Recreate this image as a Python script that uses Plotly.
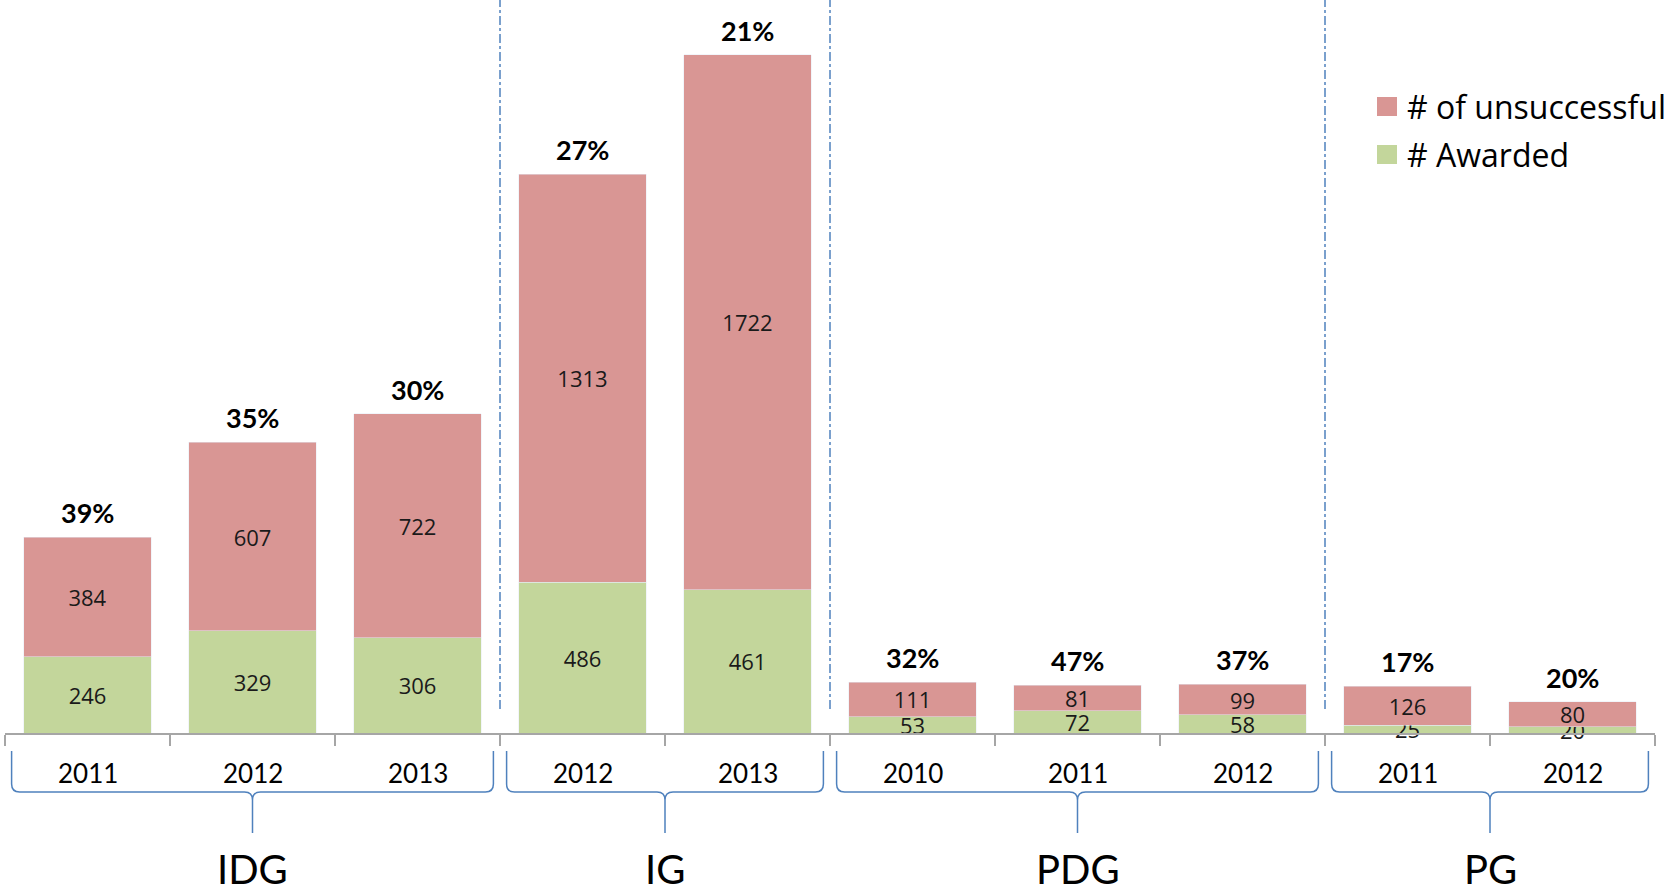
import plotly.graph_objects as go

# data
groups = ["IDG", "IDG", "IDG", "IG", "IG", "PDG", "PDG", "PDG", "PG", "PG"]
years = ["2011", "2012", "2013", "2012", "2013", "2010", "2011", "2012", "2011", "2012"]
awarded = [246, 329, 306, 486, 461, 53, 72, 58, 25, 20]
unsuccessful = [384, 607, 722, 1313, 1722, 111, 81, 99, 126, 80]
pct_labels = ["39%", "35%", "30%", "27%", "21%", "32%", "47%", "37%", "17%", "20%"]

red = "#D99694"
green = "#C3D69B"
blue = "#4F81BD"

cats = [f"{g} {y}" for g, y in zip(groups, years)]
totals = [a + u for a, u in zip(awarded, unsuccessful)]

# figure geometry (pixels)
FW, FH = 1671, 894
ML, MR, MB = 5, 16, 161
PW = FW - ML - MR
PH = FH - MB


def xp(px):
    return (px - ML) / PW


def yp(py):
    return (PH - py) / PH


def cat_px(idx):
    return ML + (idx + 0.5) * PW / len(cats)


fig = go.Figure()

for vals, name, col in [(awarded, "# Awarded", green),
                        (unsuccessful, "# of unsuccessful", red)]:
    fig.add_trace(go.Bar(
        x=cats, y=vals, name=name, marker_color=col,
        text=vals, textposition="inside", insidetextanchor="middle",
        textangle=0, constraintext="none", cliponaxis=False,
        textfont=dict(family="Open Sans", size=22, color="#1a1a1a"),
        showlegend=False,
    ))

annotations = []
shapes = []

# percentage labels above bars
for c, t, p in zip(cats, totals, pct_labels):
    annotations.append(dict(
        x=c, y=t, text=f"<b>{p}</b>", showarrow=False,
        xanchor="center", yanchor="bottom", yshift=6,
        font=dict(family="Lato", size=27, color="black"),
    ))

# year labels under the axis
for i, y in enumerate(years):
    annotations.append(dict(
        x=xp(cat_px(i)), y=yp(773), xref="paper", yref="paper", text=y,
        xanchor="center", yanchor="middle", showarrow=False,
        font=dict(family="Lato", size=26, color="black"),
    ))

# group braces, labels and separators
group_names = []
for g in groups:
    if g not in group_names:
        group_names.append(g)

yt, ym, yb, r = 751, 792, 833, 8


def P(x, y):
    return f"{xp(x):.5f},{yp(y):.5f}"


for k, g in enumerate(group_names):
    idx = [i for i, gg in enumerate(groups) if gg == g]
    xl = cat_px(idx[0] - 0.5 + 0.04)
    xr = cat_px(idx[-1] + 0.5 - 0.04)
    xc = (cat_px(idx[0]) + cat_px(idx[-1])) / 2

    path = (
        f"M{P(xl, yt)} L{P(xl, ym - r)} Q{P(xl, ym)} {P(xl + r, ym)} "
        f"L{P(xc - r, ym)} Q{P(xc, ym)} {P(xc, ym + r)} L{P(xc, yb)} "
        f"M{P(xc, ym + r)} Q{P(xc, ym)} {P(xc + r, ym)} "
        f"L{P(xr - r, ym)} Q{P(xr, ym)} {P(xr, ym - r)} L{P(xr, yt)}"
    )
    shapes.append(dict(type="path", path=path, xref="paper", yref="paper",
                       line=dict(color=blue, width=1.5)))
    annotations.append(dict(
        x=xp(xc), y=yp(869), xref="paper", yref="paper", text=g,
        xanchor="center", yanchor="middle", showarrow=False,
        font=dict(family="Lato", size=40, color="black"),
    ))
    if k > 0:
        xb = cat_px(idx[0] - 0.5)
        shapes.append(dict(type="line", xref="paper", yref="paper",
                           x0=xp(xb), x1=xp(xb), y0=yp(709), y1=1,
                           line=dict(color=blue, width=1.5, dash="dashdot")))

# legend drawn by hand (bigger swatches than plotly's bar legend)
legend_items = [("# of unsuccessful", red, 106), ("# Awarded", green, 154)]
for name, col, cy in legend_items:
    shapes.append(dict(type="rect", xref="paper", yref="paper",
                       x0=xp(1377), x1=xp(1397), y0=yp(cy + 10), y1=yp(cy - 9),
                       fillcolor=col, line=dict(width=0)))
    annotations.append(dict(
        x=xp(1405), y=yp(cy), xref="paper", yref="paper", text=name,
        xanchor="left", yanchor="middle", showarrow=False,
        font=dict(family="Open Sans", size=32, color="black"),
    ))

fig.update_layout(
    width=FW, height=FH,
    margin=dict(l=ML, r=MR, t=0, b=MB),
    barmode="stack", bargap=0.23,
    plot_bgcolor="white", paper_bgcolor="white",
    uniformtext=dict(minsize=22, mode="show"),
    xaxis=dict(
        type="category", range=[-0.5, len(cats) - 0.5],
        showline=True, linecolor="#A6A6A6", linewidth=1.5,
        ticks="outside", tickson="boundaries", ticklen=11,
        tickcolor="#A6A6A6", tickwidth=1.5,
        showticklabels=False, showgrid=False, zeroline=False,
    ),
    yaxis=dict(range=[0, 2360], visible=False, showgrid=False),
    annotations=annotations,
    shapes=shapes,
)

# drop the default body margin so the figure sits at the window's corner
fig.write_html(
    "out.html",
    config={"displayModeBar": False},
    post_script="document.body.style.margin='0';",
)
